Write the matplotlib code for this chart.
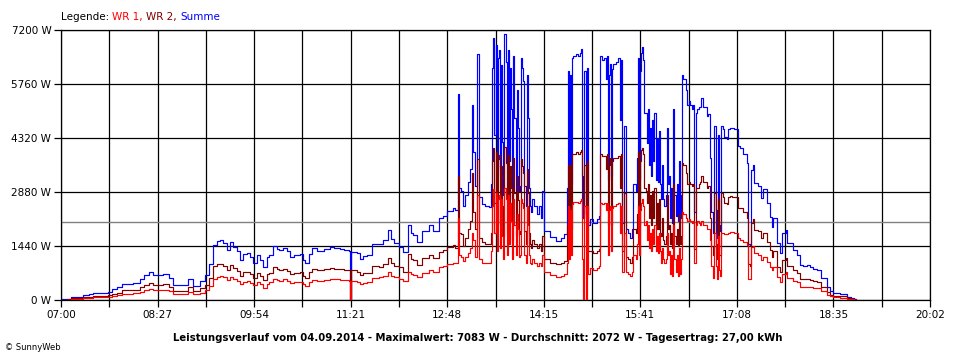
import numpy as np
import matplotlib
matplotlib.use("Agg")
import matplotlib.pyplot as plt

# minutes after 07:00, power of the two inverters in W
t_am = [0, 5, 9, 14, 20, 25, 29, 36, 42, 46,
        50, 55, 59, 65, 71, 75, 79, 83, 87, 92,
        97, 101, 106, 110, 114, 119, 125, 130, 133, 137,
        140, 143, 146, 149, 152, 155, 158, 161, 164, 167,
        170, 173, 176, 179, 182, 185, 187, 191, 194, 196,
        200, 203, 206, 210, 215, 218, 220, 223, 226, 230,
        233, 237, 242, 246, 251, 255, 259, 260, 261, 266,
        269, 272, 275, 280, 283, 286, 290, 294, 297, 300,
        304, 308, 312, 315, 317, 320, 325, 331, 335, 340,
        344, 347, 350, 353]
wr1_am = [10, 10, 27, 35, 53, 60, 80, 80, 89, 120,
          140, 160, 165, 185, 220, 260, 284, 267, 267, 267,
          240, 160, 160, 160, 213, 150, 196, 267, 382, 570,
          620, 640, 610, 530, 622, 560, 520, 420, 480, 500,
          460, 390, 470, 420, 330, 440, 480, 570, 540, 520,
          550, 520, 450, 480, 480, 420, 380, 480, 540, 520,
          520, 540, 570, 560, 540, 530, 520, 0, 500, 489,
          427, 460, 470, 578, 600, 622, 650, 740, 650, 620,
          551, 520, 760, 700, 667, 620, 730, 790, 740, 889,
          900, 960, 950, 978]
wr2_am = [10, 15, 44, 55, 89, 90, 100, 110, 124, 170,
          200, 260, 265, 275, 345, 400, 462, 400, 410, 420,
          356, 250, 240, 240, 338, 230, 311, 410, 580, 900,
          950, 951, 900, 800, 933, 850, 780, 650, 760, 760,
          700, 590, 730, 640, 540, 700, 720, 870, 820, 810,
          830, 780, 690, 720, 740, 640, 600, 760, 840, 800,
          800, 820, 850, 830, 830, 810, 800, 0, 790, 756,
          667, 720, 730, 907, 900, 871, 950, 1120, 980, 907,
          870, 756, 1240, 1100, 1067, 933, 1120, 1200, 1111, 1289,
          1330, 1420, 1420, 1467]

t_mid = [355, 357, 358, 360, 362, 364, 366, 368, 370, 371,
         373, 374, 376, 379, 382, 385, 387, 388, 389, 390,
         391, 392, 393, 394, 395, 396, 397, 398, 399, 400,
         401, 402, 403, 404, 405, 406, 407, 408, 409, 410,
         411, 412, 413, 414, 415, 416, 417, 418, 419, 420,
         421, 422, 423, 424, 426, 428, 430, 432, 433, 435,
         440, 445, 450, 453, 455, 456, 457, 458, 459, 460,
         461, 463, 465, 467, 468, 469, 470, 471, 472, 473,
         474, 476, 479, 482, 484, 485, 487, 489, 490, 491,
         492, 493, 494, 495, 496, 497, 499, 501, 502, 503,
         504, 505, 507, 508, 510, 512, 514, 515, 517, 518,
         519, 520, 521, 522, 523, 524, 525, 526, 527, 528,
         529, 530, 531, 532, 533, 534, 535, 536, 537, 538,
         539, 540, 541, 542, 543, 544, 545, 546, 547, 548,
         549, 550, 551, 552, 553, 554, 555, 556, 557, 558,
         559, 560, 562, 563, 565, 566, 568, 569, 570, 571,
         572, 574, 575, 576, 578, 579, 581, 582, 584, 585,
         587, 588, 589, 590, 591, 592, 593, 594, 596, 597,
         599, 600, 602, 604, 606, 608, 609]
wr1_mid = [1000, 2200, 1200, 1150, 1050, 1150, 1250, 1400, 1800, 1600,
           1150, 2800, 1100, 1000, 1000, 980, 1300, 2500, 2950, 1800,
           2850, 1300, 2700, 2800, 1400, 2700, 1700, 1100, 3000, 2700,
           1200, 2800, 1500, 2600, 2100, 1100, 2700, 2000, 1200, 2300,
           1900, 1150, 1200, 2700, 2600, 2450, 1200, 1000, 2500, 2000,
           1200, 1000, 950, 1100, 1000, 900, 1000, 900, 1200, 750,
           680, 620, 650, 700, 1000, 2500, 1100, 2400, 1200, 2550,
           2620, 2620, 2600, 2650, 2700, 1100, 0, 2500, 0, 2500,
           700, 850, 800, 850, 900, 2600, 2550, 2600, 2400, 2600,
           1200, 2400, 2500, 1300, 2450, 2500, 2550, 2600, 2600, 1800,
           2500, 750, 1800, 750, 700, 650, 750, 1200, 1100, 1500,
           2500, 1200, 2400, 2600, 2700, 2500, 2000, 2100, 1600, 2000,
           1400, 1800, 1300, 1900, 1500, 2000, 1300, 1700, 1250, 1800,
           1300, 1000, 1400, 1100, 1000, 1100, 1800, 1200, 1300, 700,
           1200, 650, 2000, 1100, 750, 1200, 650, 1400, 700, 1100,
           2350, 2300, 2200, 2100, 2150, 2100, 2050, 2100, 1000, 2000,
           2100, 2050, 2000, 2100, 2000, 2000, 1900, 1900, 1600, 900,
           600, 1800, 900, 550, 1700, 800, 650, 1800, 1800, 1750,
           1750, 1800, 1820, 1820, 1800, 1800, 1650]
wr2_mid = [1400, 3300, 1800, 1750, 1450, 1650, 1900, 2100, 3400, 2350,
           1900, 3750, 1650, 1550, 1500, 1500, 1800, 3700, 4050, 2600,
           3950, 2000, 3750, 3870, 2100, 3570, 2520, 1700, 4083, 3650,
           1800, 3870, 2200, 3580, 3000, 1600, 3800, 2850, 1700, 3300,
           2680, 1750, 1850, 3750, 3580, 3400, 1850, 1500, 3500, 2850,
           1800, 1500, 1400, 1600, 1500, 1400, 1500, 1300, 1700, 1100,
           1000, 950, 1000, 1050, 2000, 3600, 2100, 3600, 1900, 3900,
           3900, 3950, 3900, 3950, 4000, 2200, 2200, 3600, 2300, 3700,
           1300, 1300, 1250, 1300, 1350, 3900, 3850, 3850, 3500, 3900,
           2000, 3600, 3800, 2000, 3700, 3800, 3800, 3850, 3850, 3000,
           3900, 1300, 2850, 1150, 1100, 1000, 1150, 1900, 1800, 2300,
           3950, 2000, 3700, 4000, 4050, 3900, 3000, 2900, 2600, 3100,
           2200, 2800, 2000, 2900, 2200, 3000, 1900, 2600, 1900, 2700,
           1800, 1700, 2200, 1600, 1500, 1700, 2800, 1900, 2000, 1500,
           1800, 1400, 3100, 1700, 1500, 1900, 1450, 2300, 1500, 1700,
           3650, 3600, 3400, 3100, 3150, 3100, 3050, 3100, 1350, 3000,
           3000, 3100, 3150, 3300, 3150, 3150, 3000, 3050, 2200, 1450,
           1200, 2850, 1500, 1100, 2700, 1200, 1200, 2850, 2750, 2600,
           2550, 2750, 2780, 2760, 2750, 2750, 2450]

t_pm = [611, 614, 617, 618, 620, 621, 623, 624, 627, 630,
        632, 635, 638, 640, 641, 644, 647, 649, 652, 653,
        656, 659, 662, 665, 668, 671, 674, 677, 680, 684,
        689, 692, 695, 701, 707, 711, 714, 715]
wr1_pm = [1600, 1550, 1467, 550, 560, 1422, 1450, 1244, 1200, 1067,
          1150, 1022, 889, 800, 880, 622, 489, 700, 740, 600,
          600, 520, 470, 360, 360, 360, 350, 330, 311, 230,
          140, 100, 70, 60, 35, 20, 10, 0]
wr2_pm = [2444, 2355, 2178, 950, 900, 2050, 2150, 1867, 1850, 1644,
          1800, 1555, 1333, 1150, 1300, 889, 755, 1078, 1120, 910,
          910, 810, 730, 570, 560, 570, 540, 500, 489, 350,
          215, 130, 108, 100, 54, 30, 17, 0]

tick_labels = ["07:00", "08:27", "09:54", "11:21", "12:48",
               "14:15", "15:41", "17:08", "18:35", "20:02"]
durchschnitt = 2072

minutes = np.array(t_am + t_mid + t_pm)
wr1 = np.array(wr1_am + wr1_mid + wr1_pm)
wr2 = np.array(wr2_am + wr2_mid + wr2_pm)
summe = wr1 + wr2

fig = plt.figure(figsize=(9.6, 3.6), dpi=100)
ax = fig.add_axes([61 / 960, 60 / 360, 869 / 960, 270 / 360])

ax.axhline(durchschnitt, color="#808080", lw=1.0, zorder=1.5)
ax.plot(minutes, summe, color="#0000ff", lw=0.85, drawstyle="steps-post", zorder=2)
ax.plot(minutes, wr2, color="#800000", lw=0.85, drawstyle="steps-post", zorder=3)
ax.plot(minutes, wr1, color="#ff0000", lw=0.85, drawstyle="steps-post", zorder=4)

ax.set_xlim(0, 782)
ax.set_ylim(0, 7200)
xt = np.linspace(0, 782, 19)
ax.set_xticks(xt)
labels = []
for i in range(19):
    labels.append(tick_labels[i // 2] if i % 2 == 0 else "")
ax.set_xticklabels(labels)
yt = [0, 1440, 2880, 4320, 5760, 7200]
ax.set_yticks(yt)
ax.set_yticklabels([f"{v} W" for v in yt])

ax.set_axisbelow(True)
ax.grid(True, color="black", lw=0.9)
for s in ax.spines.values():
    s.set_color("black")
    s.set_linewidth(0.9)
ax.tick_params(direction="out", length=5, width=0.9, labelsize=7.5, pad=2, colors="black")

# legend line at the top
fig.canvas.draw()
r = fig.canvas.get_renderer()
x = 61 / 960
y = 1 - 17 / 360
for txt, col in [("Legende: ", "black"), ("WR 1, ", "#ff0000"),
                 ("WR 2, ", "#800000"), ("Summe", "#0000ff")]:
    tt = fig.text(x, y, txt, color=col, fontsize=7.5, va="center", ha="left")
    w = tt.get_window_extent(renderer=r).width
    x += w / 960

fig.text(478 / 960, 1 - 338 / 360,
         "Leistungsverlauf vom 04.09.2014 - Maximalwert: 7083 W - Durchschnitt: 2072 W - Tagesertrag: 27,00 kWh",
         ha="center", va="center", fontsize=7.3, fontweight="bold")
fig.text(5 / 960, 1 - 347 / 360, "\u00a9 SunnyWeb", fontsize=6, va="center", ha="left")

fig.savefig("out.png", dpi=100)
